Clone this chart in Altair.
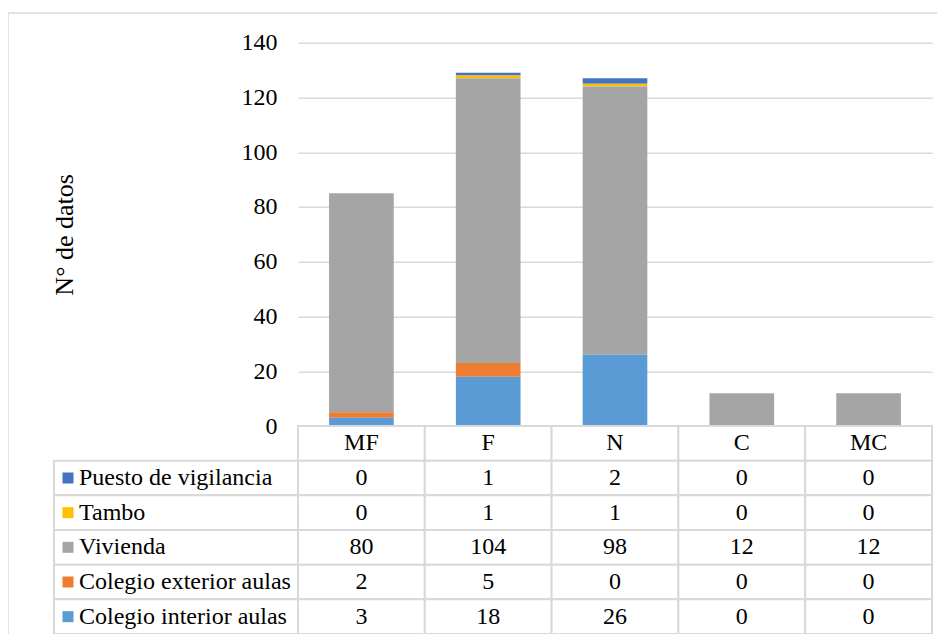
import altair as alt
import pandas as pd

# ---------------- data ----------------
categories = ["MF", "F", "N", "C", "MC"]
series = ["Puesto de vigilancia", "Tambo", "Vivienda",
          "Colegio exterior aulas", "Colegio interior aulas"]
puesto = [0, 1, 2, 0, 0]
tambo = [0, 1, 1, 0, 0]
vivienda = [80, 104, 98, 12, 12]
exterior = [2, 5, 0, 0, 0]
interior = [3, 18, 26, 0, 0]
colors = ["#4472C4", "#FFC000", "#A5A5A5", "#ED7D31", "#5B9BD5"]
y_ticks = [0, 20, 40, 60, 80, 100, 120, 140]
y_title = "N° de datos"

values_by_series = [puesto, tambo, vivienda, exterior, interior]
stack_pos = {name: i for i, name in enumerate(reversed(series))}  # interior at bottom

recs = []
for s, vals in zip(series, values_by_series):
    for c, v in zip(categories, vals):
        recs.append({"cat": c, "series": s, "value": v, "order": stack_pos[s],
                     "row": s, "label": str(v)})
df = pd.DataFrame(recs)

row_domain = ["header"] + series
df_header = pd.DataFrame({"cat": categories, "row": "header", "label": categories})
df_table = pd.concat([df_header, df[["cat", "row", "label"]]], ignore_index=True)
df_labels = pd.DataFrame({"row": series, "color": colors})

# ---------------- layout constants ----------------
FONT = "Liberation Serif"
GRID = "#d9d9d9"
PLOT_H = 383.3
TABLE_BOTTOM = 591.3
W = 634

x_enc = alt.X("cat:N", sort=categories,
              scale=alt.Scale(domain=categories, paddingInner=0, paddingOuter=0),
              axis=None)
y_row = alt.Y("row:N", sort=row_domain,
              scale=alt.Scale(domain=row_domain, range=[PLOT_H, TABLE_BOTTOM],
                              paddingInner=0, paddingOuter=0),
              axis=None)

# ---------------- bars ----------------
bars = alt.Chart(df).mark_bar(width=alt.RelativeBandSize(0.51)).encode(
    x=x_enc,
    y=alt.Y("value:Q", stack="zero",
            scale=alt.Scale(domain=[0, 140], range=[PLOT_H, 0], nice=False, zero=True),
            axis=alt.Axis(values=y_ticks, ticks=False, domain=False, grid=True,
                          gridColor=GRID, gridWidth=1.5,
                          labelFont=FONT, labelFontSize=24, labelColor="black",
                          labelPadding=21,
                          title=y_title, titleFont=FONT, titleFontSize=26,
                          titleFontWeight="normal", titleColor="black",
                          titleX=-234, titleY=PLOT_H / 2, titleAngle=270,
                          titleAlign="center", titleBaseline="middle")),
    color=alt.Color("series:N", scale=alt.Scale(domain=series, range=colors), legend=None),
    order=alt.Order("order:Q", sort="ascending"),
)

# ---------------- table ----------------
cells = alt.Chart(df_table).mark_rect(fill="white", stroke=GRID, strokeWidth=2).encode(
    x=x_enc, y=y_row)
cell_text = alt.Chart(df_table).mark_text(
    font=FONT, fontSize=24, color="black", baseline="middle", dy=0).encode(
    x=x_enc, y=y_row, text="label:N")

label_cells = alt.Chart(df_labels).mark_rect(fill="white", stroke=GRID, strokeWidth=2).encode(
    x=alt.value(-244), x2=alt.value(0), y=y_row)
squares = alt.Chart(df_labels).mark_square(size=121, opacity=1).encode(
    x=alt.value(-230), y=y_row, color=alt.Color("color:N", scale=None))
label_text = alt.Chart(df_labels).mark_text(
    font=FONT, fontSize=24, color="black", align="left", baseline="middle", dy=0).encode(
    x=alt.value(-219), y=y_row, text="row:N")

table = alt.layer(cells, label_cells, squares, cell_text, label_text)

border = alt.Chart(pd.DataFrame({"a": [0]})).mark_rect(
    fillOpacity=0, stroke=GRID, strokeWidth=1.5).encode(
    x=alt.value(-290), x2=alt.value(900), y=alt.value(-29.7), y2=alt.value(900))

chart = alt.layer(border, bars, table).resolve_scale(y="independent").properties(
    width=W, height=TABLE_BOTTOM,
    autosize=alt.AutoSizeParams(type="none"),
    padding={"left": 290, "top": 34.7, "right": 5, "bottom": 0},
).configure_view(stroke=None)

chart.save("out.html", embed_options={"renderer": "svg", "actions": False})
